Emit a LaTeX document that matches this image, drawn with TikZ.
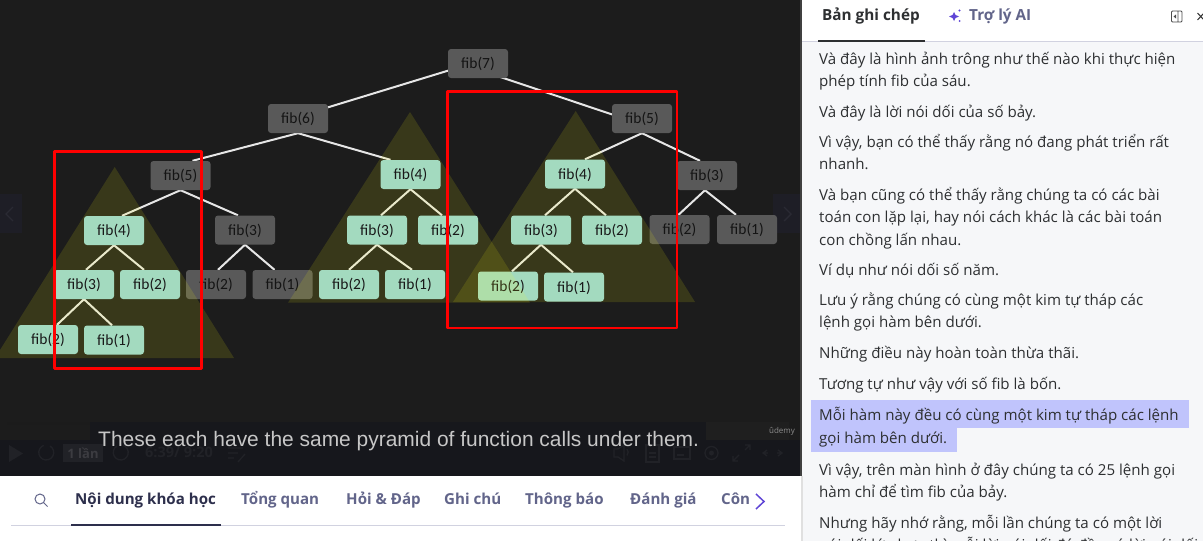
\documentclass[tikz,border=0pt]{standalone}
\usepackage{fontspec}
\setmainfont{Open Sans}
\newfontfamily\fibfont{Carlito}
\newfontfamily\subfont{Liberation Sans}
\usetikzlibrary{calc}
\pgfdeclarelayer{edgelayer}
\pgfdeclarelayer{greylayer}
\pgfdeclarelayer{tribaselayer}
\pgfdeclarelayer{greenlayerA}
\pgfdeclarelayer{trilayer}
\pgfdeclarelayer{greenlayerB}
\pgfdeclarelayer{redlayer}
\pgfsetlayers{main,edgelayer,greylayer,tribaselayer,greenlayerA,trilayer,greenlayerB,redlayer}
\definecolor{vidbg}{HTML}{1C1C1C}
\definecolor{barbg}{HTML}{16171C}
\definecolor{greenbox}{HTML}{A3DABF}
\definecolor{greybox}{HTML}{595959}
\definecolor{edgecol}{HTML}{E6E6E6}
\definecolor{triyellow}{HTML}{FFFF10}
\definecolor{panelbg}{HTML}{F6F7F9}
\definecolor{inkdark}{HTML}{2D2F31}
\definecolor{tabdark}{HTML}{2D2F4C}
\definecolor{tabgrey}{HTML}{62658A}
\definecolor{rulecol}{HTML}{D1D2E0}
\definecolor{purp}{HTML}{5F45D6}
\definecolor{hilite}{HTML}{C0C4FC}
\definecolor{ghost}{HTML}{212227}
\definecolor{ghostbtn}{HTML}{1E1E26}
\definecolor{ghostchev}{HTML}{2A2A33}
\definecolor{wmband}{HTML}{1F1F1F}
\tikzset{
 x=1pt,y=-1pt,
 fibbox/.style={minimum width=60pt,minimum height=29pt,inner sep=0pt,rounded corners=3pt,text height=11.5pt,text depth=1.5pt,font=\fibfont\fontsize{15.5}{16}\selectfont,text=black!90},
 greennode/.style={fibbox,fill=greenbox},
 greynode/.style={fibbox,fill=greybox,text=black!92},
 edgeline/.style={draw=edgecol,line width=2pt},
 pyramid/.style={fill=triyellow,fill opacity=.125,draw=none},
 redframe/.style={draw=red,line width=2.8pt,line join=round},
 panelline/.style={anchor=west,inner sep=0pt,text height=12pt,text depth=2pt,text=inkdark,font=\fontsize{15.1}{16}\selectfont},
 tablabel/.style={anchor=west,inner sep=0pt,text height=11pt,text depth=3pt,text=tabgrey,font=\fontsize{15.1}{16}\selectfont\bfseries},
 ghostline/.style={draw=ghost,line width=1.3pt},
}
\begin{document}
\begin{tikzpicture}
\useasboundingbox (0,0) rectangle (1203,541);
\clip (0,0) rectangle (1203,541);
% page
\fill[white] (0,0) rectangle (1203,541);
\fill[vidbg] (0,0) rectangle (801,476);
\fill[barbg] (0,440) rectangle (801,476);
\fill[barbg!80!vidbg] (90,421.5) rectangle (706,440);
\fill[black!3!vidbg] (7,421.5) rectangle (90,425);
\fill[wmband] (706,421.5) rectangle (789,440);
% carousel buttons
\fill[ghostbtn] (0,194) rectangle (22,233);
\draw[ghostchev,line width=1.4pt] (13,207) -- (6,214) -- (13,221);
\fill[ghostbtn] (773,194) rectangle (800,233);
\draw[ghostchev,line width=1.4pt] (784,207) -- (791,214) -- (784,221);
% player controls, nearly invisible
\fill[ghost] (9,445) -- (23,453.5) -- (9,462) -- cycle;
\draw[ghostline] (50,446) arc (-60:250:7.5);
\fill[ghost] (63,444) rectangle (103,462);
\node[anchor=center,inner sep=0pt,text=ghost!88!white,font=\fontsize{13}{14}\selectfont\bfseries] (speed) at (83,453) {1 lần};
\draw[ghostline] (117,446) arc (240:-70:7.5);
\node[anchor=west,inner sep=0pt,text=ghost,font=\fontsize{14.5}{15}\selectfont\bfseries] (clock) at (145,452) {6:39/ 9:20};
\draw[ghostline] (228,448) -- (243,448) (228,453) -- (238,453) (228,458) -- (234,458) (238,462) -- (245,454);
\draw[ghostline] (614,449) -- (618,449) -- (624,445) -- (624,461) -- (618,457) -- (614,457) -- cycle (627,449) arc (-40:40:5);
\draw[ghostline] (646,445) rectangle (659,462) (649,453) -- (656,453) (649,457) -- (656,457);
\draw[ghostline] (674,447) rectangle (690,459) (677,455) -- (684,455);
\draw[ghostline] (711.5,453) circle (6.5);
\fill[ghost] (711.5,453) circle (2.5);
\draw[ghostline] (733,461) -- (739,455) (745,450) -- (750,445) (745,445) -- (750,445) -- (750,450) (733,456) -- (733,461) -- (738,461);
\draw[ghostline] (768,453) -- (763,453) (767,450) -- (763,453) -- (767,456) (777,453) -- (782,453) (778,450) -- (782,453) -- (778,456);
% subtitle and logo
\node[anchor=base west,inner sep=0pt,text=white!78!black,font=\subfont\fontsize{20.95}{24}\selectfont] (caption) at (98,446) {These each have the same pyramid of function calls under them.};
\node[anchor=center,inner sep=0pt,text=white!55!black,font=\fontsize{8}{9}\selectfont] (logo) at (782,431) {ûdemy};

% grey nodes
\begin{pgfonlayer}{greylayer}
\node[greynode] (f7) at (478,63.5) {fib(7)};
\node[greynode] (f6) at (298,118.5) {fib(6)};
\node[greynode] (f5a) at (180.5,175.5) {fib(5)};
\node[greynode] (f3b) at (245,230) {fib(3)};
\node[greynode] (f2b) at (216,284.5) {fib(2)};
\node[greynode] (f1b) at (282.5,284.5) {fib(1)};
\node[greynode] (f5r) at (642,118.5) {fib(5)};
\node[greynode] (f3f) at (707,175.5) {fib(3)};
\node[greynode] (f2f) at (679.5,229.5) {fib(2)};
\node[greynode] (f1f) at (747,229.5) {fib(1)};
\end{pgfonlayer}
% right pyramid with the green nodes below the middle pyramid
\begin{pgfonlayer}{tribaselayer}
\fill[pyramid] (575.7,111) -- (695,302) -- (453,302) -- cycle;
\end{pgfonlayer}
\begin{pgfonlayer}{greenlayerA}
\node[greennode] (f4r) at (575,174) {fib(4)};
\node[greennode] (f3r) at (541,230) {fib(3)};
\node[greennode] (f2r) at (612,230) {fib(2)};
\node[greennode] (f2s) at (508,286) {fib(2)};
\node[greennode] (f1s) at (574,287) {fib(1)};
\end{pgfonlayer}
% left and middle pyramids
\begin{pgfonlayer}{trilayer}
\fill[pyramid] (114.7,167) -- (234,358) -- (-5,358) -- cycle;
\fill[pyramid] (410,112) -- (530,302.7) -- (288,302.7) -- cycle;
\end{pgfonlayer}
\begin{pgfonlayer}{greenlayerB}
\node[greennode] (f4a) at (114,230.5) {fib(4)};
\node[greennode] (f3a) at (84,284.5) {fib(3)};
\node[greennode] (f2a) at (150,284.5) {fib(2)};
\node[greennode] (f2c) at (48,339.5) {fib(2)};
\node[greennode] (f1c) at (114,340) {fib(1)};
\node[greennode] (f4m) at (410.5,174.5) {fib(4)};
\node[greennode] (f3m) at (377,230) {fib(3)};
\node[greennode] (f2m) at (448,230) {fib(2)};
\node[greennode] (f2n) at (349,284.5) {fib(2)};
\node[greennode] (f1n) at (415,284.5) {fib(1)};
\end{pgfonlayer}
% connectors
\begin{pgfonlayer}{edgelayer}
\draw[edgeline] ([yshift=2pt]f7.center) -- ([yshift=2pt]f6.center);
\draw[edgeline] ([yshift=-6pt]f7.center) -- ([yshift=-6pt]f5r.center);
\draw[edgeline] (f6.south) -- ([xshift=12pt]f5a.north);
\draw[edgeline] (f6.south) -- ([xshift=-20pt]f4m.north);
\draw[edgeline] (f5a.south) -- ([xshift=8pt]f4a.north);
\draw[edgeline] (f5a.south) -- ([xshift=-7pt]f3b.north);
\draw[edgeline] (f4a.south) -- ([xshift=2pt]f3a.north);
\draw[edgeline] (f4a.south) -- ([xshift=-6pt]f2a.north);
\draw[edgeline] (f3a.south) -- ([xshift=9pt]f2c.north);
\draw[edgeline] (f3a.south) -- ([xshift=-2pt]f1c.north);
\draw[edgeline] (f3b.south) -- ([xshift=2pt]f2b.north);
\draw[edgeline] (f3b.south) -- ([xshift=-8pt]f1b.north);
\draw[edgeline] (f4m.south) -- ([xshift=4pt]f3m.north);
\draw[edgeline] (f4m.south) -- ([xshift=-6pt]f2m.north);
\draw[edgeline] (f3m.south) -- (f2n.north);
\draw[edgeline] (f3m.south) -- ([xshift=-3pt]f1n.north);
\draw[edgeline] (f5r.south) -- ([xshift=10pt]f4r.north);
\draw[edgeline] (f5r.south) -- ([xshift=-7pt]f3f.north);
\draw[edgeline] (f4r.south) -- ([xshift=4pt]f3r.north);
\draw[edgeline] (f4r.south) -- ([xshift=-6pt]f2r.north);
\draw[edgeline] (f3r.south) -- ([xshift=4pt]f2s.north);
\draw[edgeline] (f3r.south) -- ([xshift=-1pt]f1s.north);
\draw[edgeline] ([xshift=-2pt]f3f.south) -- ([xshift=-1pt]f2f.north);
\draw[edgeline] ([xshift=-2pt]f3f.south) -- ([xshift=-11pt]f1f.north);
\end{pgfonlayer}
% red frames
\begin{pgfonlayer}{redlayer}
\draw[redframe] (54.5,151.5) rectangle (201.5,368.5);
\draw[redframe] (447.5,91.5) rectangle (677,328);
\end{pgfonlayer}

% tabs below the video
\draw[rulecol,line width=.9pt] (11,525.5) -- (785,525.5);
\fill[tabdark] (71,524) rectangle (221,526);
\draw[tabgrey,line width=1pt] (40,499) circle (5) (43.7,502.7) -- (47.5,506.5);
\node[tablabel,text=tabdark] (t1) at (75,500) {Nội dung khóa học};
\node[tablabel] (t2) at (241,500) {Tổng quan};
\node[tablabel] (t3) at (346,500) {Hỏi \& Đáp};
\node[tablabel] (t4) at (444,500) {Ghi chú};
\node[tablabel] (t5) at (525,500) {Thông báo};
\node[tablabel] (t6) at (630,500) {Đánh giá};
\node[tablabel] (t7) at (721,500) {Côn};
\fill[white] (749,490) rectangle (770,512);
\draw[purp,line width=1.5pt] (756,494) -- (764,501.5) -- (756,509);

% side panel
\fill[panelbg] (802,42) rectangle (1203,541);
\fill[white] (802,0) rectangle (1203,41);
\fill[black!75] (800,0) rectangle (802,476);
\fill[black!12] (801,476) rectangle (803,541);
\draw[rulecol,line width=.9pt] (802,41.3) -- (1203,41.3);
\fill[inkdark] (818,40) rectangle (925,42);
\node[tablabel,text=inkdark,font=\fontsize{15.3}{16}\selectfont\bfseries] (h1) at (822,16) {Bản ghi chép};
\fill[purp] (954,12) -- (955.5,15) -- (959,16.5) -- (955.5,18) -- (954,21) -- (952.5,18) -- (949,16.5) -- (952.5,15) -- cycle;
\fill[purp] (959.5,10.5) circle (1.2) (959.5,21) circle (1);
\node[tablabel,font=\fontsize{15.3}{16}\selectfont\bfseries] (h2) at (969,16) {Trợ lý AI};
\draw[black!70,line width=.8pt,rounded corners=1pt] (1171.5,11) rectangle (1182,22) (1178,11) -- (1178,22);
\fill[black!70] (1176,14.5) -- (1176,18.5) -- (1173.5,16.5) -- cycle;
\draw[black!80,line width=1pt] (1197.5,13) -- (1204,20) (1204,13) -- (1197.5,20);
% highlight
\fill[hilite] (811,400) rectangle (1189,427.7);
\fill[hilite] (811,427) rectangle (957,452);
% transcript
\node[panelline] (l1) at (819,59) {Và đây là hình ảnh trông như thế nào khi thực hiện};
\node[panelline] (l2) at (819,81) {phép tính fib của sáu.};
\node[panelline] (l3) at (819,112) {Và đây là lời nói dối của số bảy.};
\node[panelline] (l4) at (819,142) {Vì vậy, bạn có thể thấy rằng nó đang phát triển rất};
\node[panelline] (l5) at (819,164) {nhanh.};
\node[panelline] (l6) at (819,195) {Và bạn cũng có thể thấy rằng chúng ta có các bài};
\node[panelline] (l7) at (819,217) {toán con lặp lại, hay nói cách khác là các bài toán};
\node[panelline] (l8) at (819,240) {con chồng lấn nhau.};
\node[panelline] (l9) at (819,270) {Ví dụ như nói dối số năm.};
\node[panelline] (l10) at (819,300) {Lưu ý rằng chúng có cùng một kim tự tháp các};
\node[panelline] (l11) at (819,322) {lệnh gọi hàm bên dưới.};
\node[panelline] (l12) at (819,353) {Những điều này hoàn toàn thừa thãi.};
\node[panelline] (l13) at (819,384) {Tương tự như vậy với số fib là bốn.};
\node[panelline] (l14) at (819,415) {Mỗi hàm này đều có cùng một kim tự tháp các lệnh};
\node[panelline] (l15) at (819,438) {gọi hàm bên dưới.};
\node[panelline] (l16) at (819,470) {Vì vậy, trên màn hình ở đây chúng ta có 25 lệnh gọi};
\node[panelline] (l17) at (819,492) {hàm chỉ để tìm fib của bảy.};
\node[panelline] (l18) at (819,523) {Nhưng hãy nhớ rằng, mỗi lần chúng ta có một lời};
\node[panelline] (l19) at (819,545) {nói dối lớn hơn thì mỗi lời nói dối đó đều có lời nói dối};
\end{tikzpicture}
\end{document}
